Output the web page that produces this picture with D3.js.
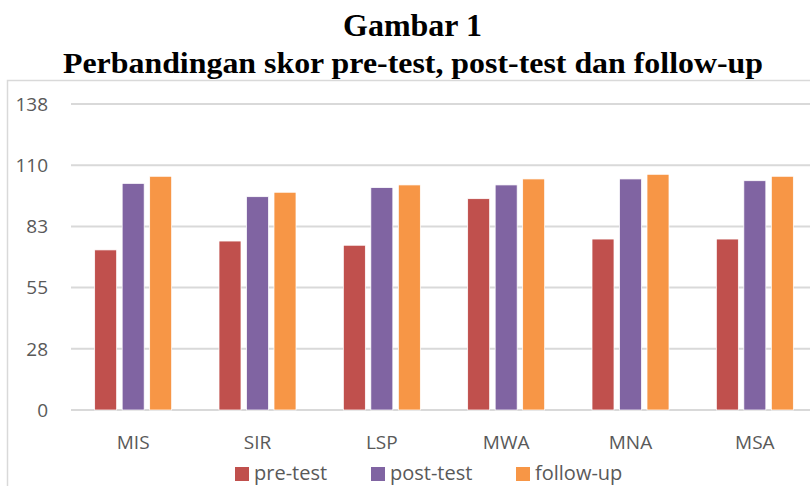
<html>
<script src='https://d3js.org/d3.v7.min.js'></script>
<head>
    <meta charset="UTF-8">
    <style>
        body { margin: 0; background: #fff; }
        svg { display: block; }
    </style>
</head>
<body>
<svg width=810 height=486></svg>
</body>
<script>
    const categories = ["MIS", "SIR", "LSP", "MWA", "MNA", "MSA"];
    const series = ["pre-test", "post-test", "follow-up"];
    const colors = ["#C0504D", "#8064A2", "#F79646"];
    const preTest = [72.2, 76.2, 74.3, 95.3, 77.1, 77.1];
    const postTest = [102.2, 96.2, 100.3, 101.5, 104.2, 103.4];
    const followUp = [105.4, 98.2, 101.5, 104.2, 106.3, 105.4];
    const tickValues = [0, 27.6, 55.2, 82.8, 110.4, 138];
    const tickLabels = ["0", "28", "55", "83", "110", "138"];

    const values = [preTest, postTest, followUp];
    const rows = categories.map((c, i) => ({
        cat: c,
        vals: series.map((s, j) => ({ key: s, value: values[j][i] }))
    }));

    const svg = d3.select("svg");
    const W = 810, H = 486;
    const plot = { left: 71, right: 817, top: 104, bottom: 410 };

    // chart border
    svg.append("rect")
        .attr("x", 7.5).attr("y", 80.5)
        .attr("width", 830).attr("height", 450)
        .attr("fill", "none")
        .attr("stroke", "#d9d9d9")
        .attr("stroke-width", 1.5);

    // title
    svg.append("text")
        .attr("x", 412.5).attr("y", 36)
        .attr("text-anchor", "middle")
        .style("font-family", "Liberation Serif, Times New Roman, serif")
        .style("font-weight", "bold")
        .style("font-size", "31px")
        .attr("textLength", 139)
        .attr("lengthAdjust", "spacingAndGlyphs")
        .text("Gambar 1");

    svg.append("text")
        .attr("x", 413).attr("y", 73)
        .attr("text-anchor", "middle")
        .style("font-family", "Liberation Serif, Times New Roman, serif")
        .style("font-weight", "bold")
        .style("font-size", "29px")
        .attr("textLength", 700)
        .attr("lengthAdjust", "spacingAndGlyphs")
        .text("Perbandingan skor pre-test, post-test dan follow-up");

    const y = d3.scaleLinear()
        .domain([0, 138])
        .range([plot.bottom, plot.top]);

    const x0 = d3.scaleBand()
        .domain(categories)
        .range([plot.left, plot.right])
        .padding(0);

    const groupW = 77;
    const x1 = d3.scaleBand()
        .domain(series)
        .range([0, groupW])
        .paddingInner(0.2);

    const color = d3.scaleOrdinal().domain(series).range(colors);

    // gridlines
    svg.append("g")
        .selectAll("line")
        .data(tickValues)
        .join("line")
        .attr("x1", plot.left).attr("x2", W)
        .attr("y1", d => y(d)).attr("y2", d => y(d))
        .attr("stroke", "#d9d9d9")
        .attr("stroke-width", 2);

    // y tick labels
    svg.append("g")
        .selectAll("text")
        .data(tickValues)
        .join("text")
        .attr("x", 48)
        .attr("y", d => y(d))
        .attr("dy", "0.36em")
        .attr("text-anchor", "end")
        .style("font-family", "Open Sans, sans-serif")
        .style("font-size", "19px")
        .attr("fill", "#595959")
        .text((d, i) => tickLabels[i]);

    // bars
    const groups = svg.append("g")
        .selectAll("g")
        .data(rows)
        .join("g")
        .attr("transform", d => `translate(${x0(d.cat) + (x0.bandwidth() - groupW) / 2},0)`);

    groups.selectAll("rect")
        .data(d => d.vals)
        .join("rect")
        .attr("x", d => x1(d.key))
        .attr("width", x1.bandwidth())
        .attr("y", d => y(d.value))
        .attr("height", d => y(0) - y(d.value))
        .attr("fill", d => color(d.key))
        .attr("stroke", "#fff")
        .attr("stroke-width", 0.75);

    // category labels
    svg.append("g")
        .selectAll("text")
        .data(categories)
        .join("text")
        .attr("x", d => x0(d) + x0.bandwidth() / 2)
        .attr("y", 449)
        .attr("text-anchor", "middle")
        .style("font-family", "Open Sans, sans-serif")
        .style("font-size", "19px")
        .attr("fill", "#595959")
        .text(d => d);

    // legend
    const legendX = [235, 371, 516];
    const legend = svg.append("g")
        .selectAll("g")
        .data(series)
        .join("g")
        .attr("transform", (d, i) => `translate(${legendX[i]},0)`);

    legend.append("rect")
        .attr("x", 0).attr("y", 467)
        .attr("width", 14).attr("height", 14)
        .attr("fill", d => color(d));

    legend.append("text")
        .attr("x", 19).attr("y", 480)
        .style("font-family", "Open Sans, sans-serif")
        .style("font-size", "20px")
        .attr("fill", "#595959")
        .text(d => d);
</script>
</html>
